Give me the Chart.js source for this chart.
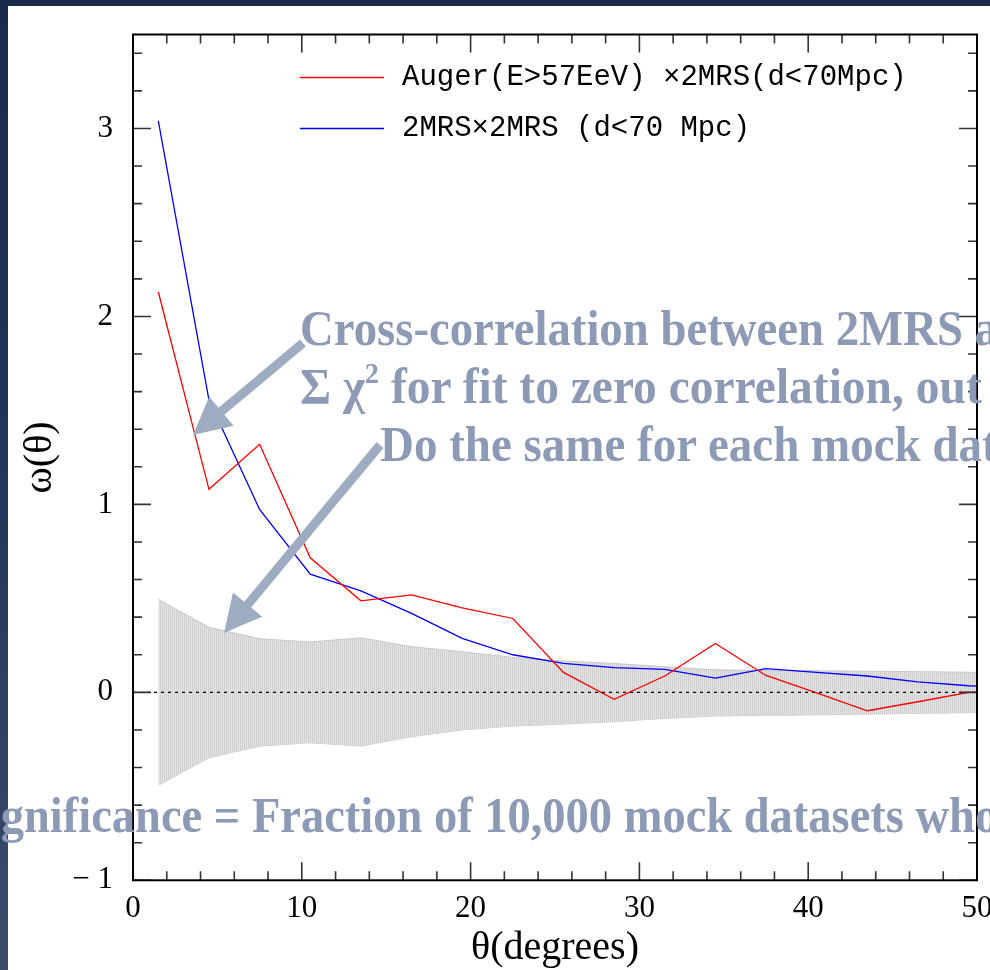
<!DOCTYPE html>
<html>
<head>
<meta charset="utf-8">
<script src="https://cdn.jsdelivr.net/npm/chart.js@4.4.1/dist/chart.umd.min.js"></script>
<style>
html,body{margin:0;padding:0;width:990px;height:970px;overflow:hidden;}
body{position:relative;background:linear-gradient(to bottom,#1a2a4b 0%,#22345a 45%,#3e4b6b 100%);}
#panel{position:absolute;left:8px;top:6px;width:982px;height:964px;background:#ffffff;}
#c{position:absolute;left:0;top:0;}
#notes{position:absolute;left:0;top:0;overflow:hidden;}
</style>
</head>
<body>
<div id="panel"></div>
<canvas id="c" width="990" height="970"></canvas>
<svg id="notes" width="990" height="970" xmlns="http://www.w3.org/2000/svg">
  <polygon id="arrow1" fill="#9eacc2"></polygon>
  <polygon id="arrow2" fill="#9eacc2"></polygon>
  <g font-family="'Liberation Serif', 'Times New Roman', serif" font-weight="bold" font-size="50" fill="#8c9ab6">
    <text transform="translate(300,345) scale(0.935,1)">Cross-correlation between 2MRS a</text>
    <text transform="translate(300,403) scale(0.95,1)">Σ χ<tspan dy="-20" font-size="30">2</tspan><tspan dy="20"> for fit to zero correlation, out</tspan></text>
    <text transform="translate(380,461) scale(0.94,1)">Do the same for each mock dat</text>
    <text transform="translate(-38,832) scale(0.93,1)">Significance = Fraction of 10,000 mock datasets who</text>
  </g>
</svg>
<script>
// ---- data ----
const theta = [1.5, 4.5, 7.5, 10.5, 13.5, 16.5, 19.5, 22.5, 25.5, 28.5, 31.5, 34.5, 37.5, 40.5, 43.5, 46.5, 49.5, 50];
const augerX2mrs = [2.13, 1.08, 1.32, 0.716, 0.487, 0.519, 0.45, 0.393, 0.106, -0.037, 0.087, 0.26, 0.09, -0.003, -0.098, -0.05, 0.0, 0.0];
const mrsX2mrs = [3.04, 1.555, 0.973, 0.629, 0.54, 0.42, 0.287, 0.2, 0.154, 0.131, 0.122, 0.076, 0.126, 0.106, 0.087, 0.056, 0.035, 0.033];
const mockUpper = [0.495, 0.346, 0.285, 0.268, 0.29, 0.243, 0.216, 0.186, 0.167, 0.154, 0.136, 0.12, 0.116, 0.115, 0.112, 0.11, 0.107, 0.106];
const mockLower = [-0.495, -0.348, -0.286, -0.268, -0.286, -0.236, -0.2, -0.179, -0.169, -0.156, -0.138, -0.126, -0.122, -0.12, -0.116, -0.112, -0.108, -0.108];
const zeroTheta = [0, 50];
const zeroValue = [0, 0];
const seriesLabels = ['Auger(E>57EeV) \u00d72MRS(d<70Mpc)', '2MRS\u00d72MRS (d<70 Mpc)'];
const xTickStep = 10, xMinorStep = 2;
const yTickStep = 1, yMinorStep = 0.2;

const pts = (xs, ys) => xs.map((v, i) => ({x: v, y: ys[i]}));

// hatch pattern for the mock band
const pc = document.createElement('canvas');
pc.width = 2; pc.height = 4;
const pctx = pc.getContext('2d');
pctx.fillStyle = '#d0d0d0'; pctx.fillRect(0, 0, 1, 4);
pctx.fillStyle = '#e3e3e3'; pctx.fillRect(1, 0, 1, 4);
const hatch = pctx.createPattern(pc, 'repeat');

const framePlugin = {
  id: 'frame',
  afterDatasetsDraw(chart) {
    const {ctx, chartArea: a, scales: {x, y}} = chart;
    ctx.save();
    ctx.strokeStyle = '#333';
    ctx.lineWidth = 1.6;
    ctx.beginPath();
    const nx = Math.floor((x.max - x.min) / xMinorStep + 1e-6);
    for (let k = 0; k <= nx; k++) {
      const v = x.min + k * xMinorStep;
      const px = x.getPixelForValue(v);
      const len = Math.abs(v / xTickStep - Math.round(v / xTickStep)) < 1e-6 ? 18 : 9;
      ctx.moveTo(px, a.bottom); ctx.lineTo(px, a.bottom - len);
      ctx.moveTo(px, a.top); ctx.lineTo(px, a.top + len);
    }
    const ny = Math.floor((y.max - y.min) / yMinorStep + 1e-6);
    for (let k = 0; k <= ny; k++) {
      const v = y.min + k * yMinorStep;
      const py = y.getPixelForValue(v);
      const len = Math.abs(v / yTickStep - Math.round(v / yTickStep)) < 1e-6 ? 18 : 9;
      ctx.moveTo(a.left, py); ctx.lineTo(a.left + len, py);
      ctx.moveTo(a.right, py); ctx.lineTo(a.right - len, py);
    }
    ctx.stroke();
    ctx.strokeStyle = '#000';
    ctx.lineWidth = 2;
    ctx.strokeRect(a.left, a.top, a.right - a.left, a.bottom - a.top);
    // legend
    const items = chart.data.datasets.filter(d => d.inLegend);
    items.forEach((d, i) => {
      const ly = a.top + 43 + i * 51;
      ctx.strokeStyle = d.borderColor;
      ctx.lineWidth = 1.3;
      ctx.beginPath();
      ctx.moveTo(a.left + 167, ly); ctx.lineTo(a.left + 251, ly);
      ctx.stroke();
      ctx.fillStyle = '#000';
      ctx.font = '29px "Liberation Mono", monospace';
      ctx.textBaseline = 'middle';
      ctx.fillText(d.label, a.left + 269, ly);
    });
    ctx.restore();
  }
};

new Chart(document.getElementById('c'), {
  type: 'line',
  data: {
    datasets: [
      {label: seriesLabels[0], data: pts(theta, augerX2mrs), borderColor: '#ff0000', borderWidth: 1.3, pointRadius: 0, fill: false, tension: 0, order: 1, inLegend: true},
      {label: seriesLabels[1], data: pts(theta, mrsX2mrs), borderColor: '#0000ff', borderWidth: 1.3, pointRadius: 0, fill: false, tension: 0, order: 2, inLegend: true},
      {label: 'zero', data: pts(zeroTheta, zeroValue), borderColor: '#000', borderWidth: 1.4, borderDash: [3, 4], pointRadius: 0, fill: false, order: 3},
      {label: 'mock upper', data: pts(theta, mockUpper), borderColor: '#c8c8c8', borderWidth: 1, backgroundColor: hatch, pointRadius: 0, fill: '+1', order: 5},
      {label: 'mock lower', data: pts(theta, mockLower), borderColor: '#c8c8c8', borderWidth: 1, pointRadius: 0, fill: false, order: 6}
    ]
  },
  options: {
    responsive: false,
    animation: false,
    events: [],
    layout: {padding: {top: 34.5, right: 13, bottom: 0, left: 0}},
    plugins: {legend: {display: false}, tooltip: {enabled: false}},
    scales: {
      x: {
        type: 'linear', min: 0, max: 50,
        grid: {display: false, drawTicks: false},
        border: {display: false},
        ticks: {stepSize: xTickStep, color: '#000', padding: 10, maxRotation: 0, autoSkip: false,
          font: {family: "'Liberation Serif'", size: 31}},
        title: {display: true, text: '\u03b8(degrees)', color: '#000',
          font: {family: "'Liberation Serif'", size: 40, lineHeight: 1}, padding: {top: 0, bottom: 2}},
        afterFit(s) { s.height = 89.7; s.paddingLeft = 0; s.paddingRight = 0; }
      },
      y: {
        type: 'linear', min: -1, max: 3.5,
        grid: {display: false, drawTicks: false},
        border: {display: false},
        ticks: {stepSize: yTickStep, includeBounds: false, color: '#000', padding: 20, autoSkip: false,
          font: {family: "'Liberation Serif'", size: 31},
          callback: v => (v < 0 ? '\u2212 ' + Math.abs(v) : String(v))},
        title: {display: true, text: '\u03c9(\u03b8)', color: '#000',
          font: {family: "'Liberation Serif'", size: 40, lineHeight: 1}, padding: {top: 20, bottom: 0}},
        afterFit(s) { s.width = 133; s.paddingTop = 0; s.paddingBottom = 0; }
      }
    }
  },
  plugins: [framePlugin]
});

// annotation arrows
function arrow(id, tx, ty, px, py) {
  const dx = px - tx, dy = py - ty, L = Math.hypot(dx, dy);
  const ux = dx / L, uy = dy / L, nx = -uy, ny = ux;
  const w = 4.5, H = 19, HL = 37;
  const bx = px - ux * HL, by = py - uy * HL;
  const p = [[tx + nx * w, ty + ny * w], [bx + nx * w, by + ny * w], [bx + nx * H, by + ny * H], [px, py],
             [bx - nx * H, by - ny * H], [bx - nx * w, by - ny * w], [tx - nx * w, ty - ny * w]];
  document.getElementById(id).setAttribute('points', p.map(q => q[0].toFixed(1) + ',' + q[1].toFixed(1)).join(' '));
}
arrow('arrow1', 303, 343, 193, 435);
arrow('arrow2', 380, 445, 224, 633);
</script>
</body>
</html>
